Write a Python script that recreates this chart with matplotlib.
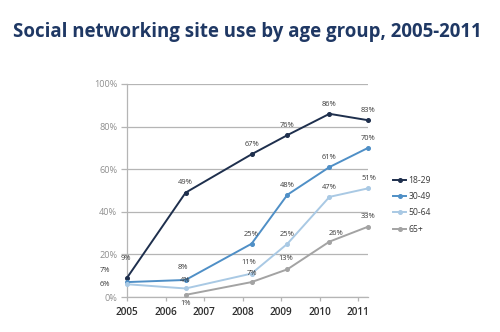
import matplotlib
matplotlib.use("Agg")
import matplotlib.pyplot as plt

# Survey dates (fractional years) and share of adults using social networking sites
survey_dates = [2005.0, 2006.52, 2008.23, 2009.16, 2010.25, 2011.25]
age_18_29 = [9, 49, 67, 76, 86, 83]
age_30_49 = [7, 8, 25, 48, 61, 70]
age_50_64 = [6, 4, 11, 25, 47, 51]
age_65_plus = [None, 1, 7, 13, 26, 33]

series_names = ["18-29", "30-49", "50-64", "65+"]
series_values = [age_18_29, age_30_49, age_50_64, age_65_plus]
series_colors = ["#1e2f4d", "#4f8fc6", "#a9c9e4", "#a3a3a3"]

year_ticks = [2005, 2006, 2007, 2008, 2009, 2010, 2011]
pct_ticks = [0, 20, 40, 60, 80, 100]

# label offsets in points (dx, dy) per series and per survey date
label_offsets = {
    "18-29": [(-1, 14), (0, 7), (0, 7), (0, 7), (0, 7), (0, 7)],
    "30-49": [(-16, 8), (-2, 9), (0, 7), (0, 7), (0, 7), (0, 7)],
    "50-64": [(-16, 0), (0, 6), (-2, 8), (0, 7), (0, 7), (1, 7)],
    "65+":   [None, (0, -6), (0, 6), (-1, 8), (5, 6), (0, 7)],
}

fig = plt.figure(figsize=(5.0, 3.32), dpi=100)
fig.patch.set_facecolor("white")

fig.text(0.494, 0.905, "Social networking site use by age group, 2005-2011",
         ha="center", va="center", fontsize=13.4, fontweight="bold",
         color="#1f3864", family="Open Sans")

ax = fig.add_axes([0.254, 0.1054, 0.482, 0.6416])

for name, vals, col in zip(series_names, series_values, series_colors):
    xs = [x for x, v in zip(survey_dates, vals) if v is not None]
    ys = [v for v in vals if v is not None]
    ax.plot(xs, ys, color=col, lw=1.4, marker="o", ms=2.6,
            markeredgecolor=col, markerfacecolor=col, clip_on=False,
            label=name, zorder=3)
    for x, v, off in zip(survey_dates, vals, label_offsets[name]):
        if v is None:
            continue
        ax.annotate(f"{v}%", (x, v), xytext=off, textcoords="offset points",
                    ha="center", va="center", fontsize=5.4, color="#3a3a3a",
                    family="Open Sans", zorder=4)

ax.set_xlim(2005, 2011.25)
ax.set_ylim(0, 100)
ax.set_yticks(pct_ticks)
ax.set_yticklabels([f"{p}%" for p in pct_ticks])
ax.set_xticks(year_ticks)
ax.set_xticklabels([str(y) for y in year_ticks])

ax.grid(axis="y", color="#b5b5b5", lw=0.9)
ax.set_axisbelow(True)
for side in ["top", "right"]:
    ax.spines[side].set_visible(False)
for side in ["left", "bottom"]:
    ax.spines[side].set_color("#b5b5b5")
    ax.spines[side].set_linewidth(0.9)

ax.tick_params(axis="y", colors="#b5b5b5", labelcolor="#8f8f8f",
               labelsize=6.6, length=4, width=0.9, pad=3)
ax.tick_params(axis="x", colors="#b5b5b5", labelcolor="#2e2e2e",
               labelsize=7.2, length=3, width=0.9, pad=4)
for lbl in ax.get_yticklabels():
    lbl.set_family("Open Sans")
for lbl in ax.get_xticklabels():
    lbl.set_family("Open Sans")
    lbl.set_fontweight("semibold")

leg = ax.legend(loc="upper left", bbox_to_anchor=(1.09, 0.585), frameon=False,
                prop={"family": "Open Sans", "size": 6.2},
                handlelength=1.5, handletextpad=0.3,
                labelspacing=0.85, borderaxespad=0)
for txt in leg.get_texts():
    txt.set_color("#3a3a3a")

fig.savefig("out.png", dpi=100, facecolor="white")
